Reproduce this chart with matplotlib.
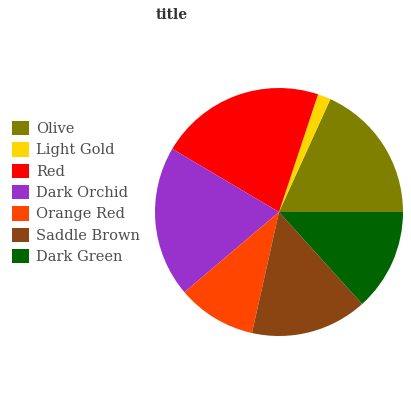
import matplotlib
matplotlib.use("Agg")
import matplotlib.pyplot as plt

labels = ["Olive", "Light Gold", "Red", "Dark Orchid", "Orange Red", "Saddle Brown", "Dark Green"]
values = [18.2, 1.7, 21.6, 19.7, 10.3, 15.2, 13.3]
colors = ["#808000", "#FFD700", "#FF0000", "#9932CC", "#FF4500", "#8B4513", "#006400"]

W, H = 411, 400
fig = plt.figure(figsize=(W / 100, H / 100), dpi=100)
plt.rcParams['font.family'] = ['DejaVu Serif']

cx, cy, r = 279, 212, 124
ax = fig.add_axes([(cx - r) / W, (H - cy - r) / H, 2 * r / W, 2 * r / H])
wedges, _ = ax.pie(values, colors=colors, startangle=0, counterclock=True,
                   wedgeprops=dict(linewidth=0))
ax.set_xlim(-1, 1)
ax.set_ylim(-1, 1)

fig.text(171.5 / W, 1 - 15 / H, "title", ha="center", va="center",
         fontsize=10, fontweight="bold", color="#333333")

fs = 10.5
leg = fig.legend(wedges, labels, loc="upper left",
                 bbox_to_anchor=(12 / W, 1 - 121 / H),
                 frameon=False, fontsize=fs, borderpad=0, borderaxespad=0,
                 handlelength=1.15, handleheight=1.15, handletextpad=0.5,
                 labelspacing=0.42)
for t in leg.get_texts():
    t.set_color("#4d4d4d")

fig.savefig("out.png", dpi=100)
